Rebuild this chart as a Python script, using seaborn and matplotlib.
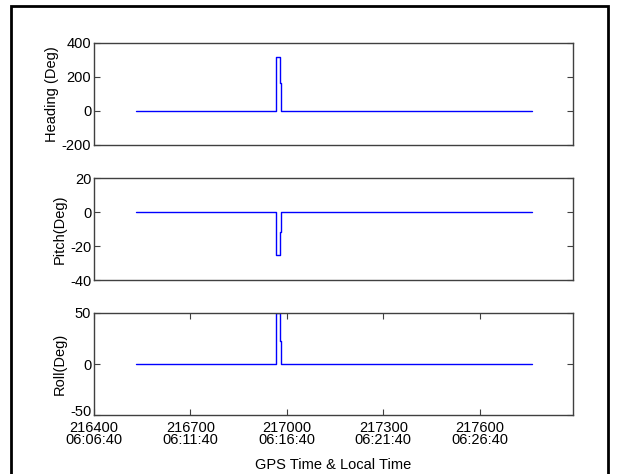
import matplotlib
matplotlib.use("Agg")
import matplotlib.pyplot as plt
import matplotlib.transforms as mtransforms
import seaborn as sns
import pandas as pd
from matplotlib.patches import Rectangle

# ---- data ----
gps_time = [216530, 216966, 216966, 216980, 216980, 216983, 216983, 217762]
heading = [0, 0, 320, 320, 165, 165, 0, 0]
pitch = [0, 0, -25, -25, -12, -12, 0, 0]
roll = [0, 0, 50, 50, 23, 23, 0, 0]

x_ticks = [216400, 216700, 217000, 217300, 217600]
x_tick_labels = ["216400\n06:06:40", "216700\n06:11:40", "217000\n06:16:40",
                 "217300\n06:21:40", "217600\n06:26:40"]
heading_ticks = [-200, 0, 200, 400]
pitch_ticks = [-40, -20, 0, 20]
roll_ticks = [-50, 0, 50]

df = pd.DataFrame({"t": gps_time, "Heading": heading, "Pitch": pitch, "Roll": roll})

sns.set_theme(style="white")
plt.rcParams["font.family"] = ["Liberation Sans", "DejaVu Sans"]
plt.rcParams["font.size"] = 10.5

fig = plt.figure(figsize=(6.19, 4.74), dpi=100)
W, H = 619, 474

def axes_px(top, bottom, left=94, right=573):
    return fig.add_axes([left / W, 1 - bottom / H, (right - left) / W, (bottom - top) / H])

ax1 = axes_px(43, 145)
ax2 = axes_px(178, 280)
ax3 = axes_px(313, 415)

specs = [
    (ax1, "Heading", "Heading (Deg)", heading_ticks, (-200, 400)),
    (ax2, "Pitch", "Pitch(Deg)", pitch_ticks, (-40, 20)),
    (ax3, "Roll", "Roll(Deg)", roll_ticks, (-50, 50)),
]

for ax, col, label, yt, ylim in specs:
    sns.lineplot(data=df, x="t", y=col, ax=ax, color="#0000ff", linewidth=1.0,
                 drawstyle="steps-post", estimator=None, sort=False)
    ax.set_xlim(216400, 217890)
    ax.set_ylim(*ylim)
    ax.set_yticks(yt)
    ax.set_yticklabels([str(v) for v in yt], fontsize=10.5, color="black")
    ax.set_ylabel(label, fontsize=10.5, color="black", labelpad=2)
    ax.set_xlabel("")
    for s in ax.spines.values():
        s.set_visible(True)
        s.set_color("#404040")
        s.set_linewidth(1.0)
    ax.tick_params(axis="both", direction="in", length=4, width=0.8, color="#404040",
                   left=True, right=True, top=True, bottom=True, pad=2)
    ax.grid(False)

for ax in (ax1, ax2):
    ax.set_xticks([])

ax3.set_xticks(x_ticks)
ax3.set_xticklabels(x_tick_labels, fontsize=10.5, color="black", linespacing=0.85)
ax3.tick_params(axis="x", pad=4)
ax3.set_xlabel("GPS Time & Local Time", fontsize=10.5, color="black", labelpad=8)

# nudge the lowest roll tick label up slightly so it does not collide with the x labels
lbl = ax3.get_yticklabels()[0]
lbl.set_transform(lbl.get_transform() + mtransforms.ScaledTranslation(0, 5 / 100, fig.dpi_scale_trans))

# outer figure border
fig.patches.append(Rectangle((11 / W, -0.02), (608 - 11) / W, 1 - 6 / H + 0.02,
                             transform=fig.transFigure, fill=False,
                             edgecolor="black", linewidth=2.0))

fig.savefig("out.png", dpi=100)
